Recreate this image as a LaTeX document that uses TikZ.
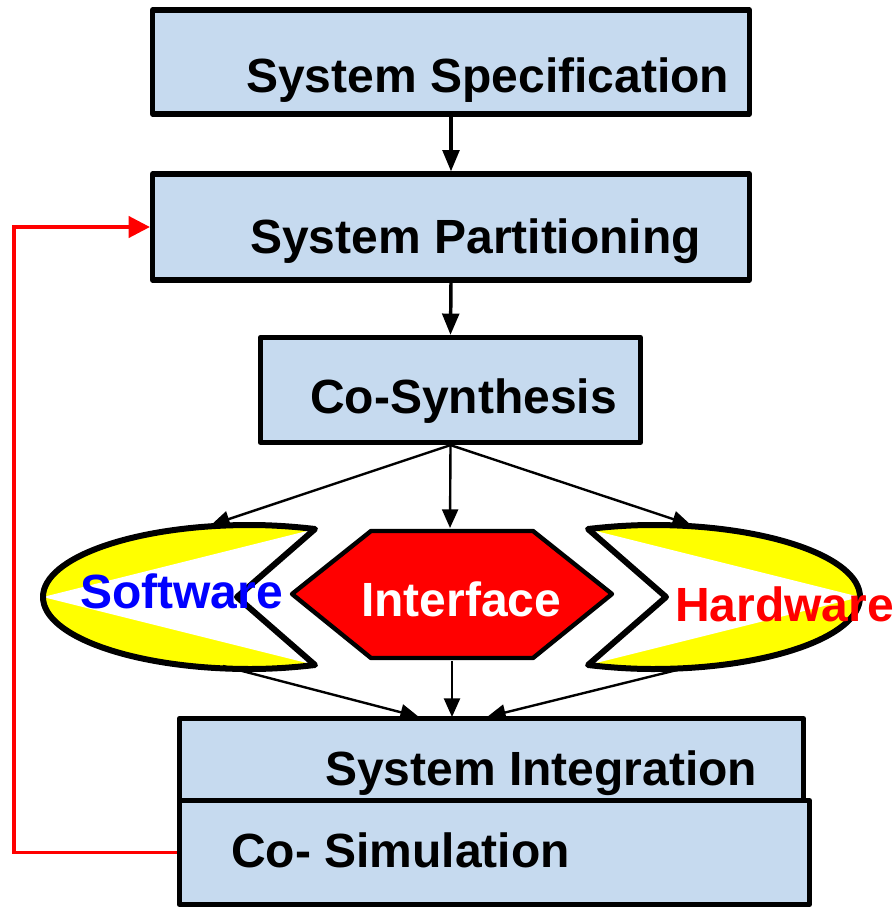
\documentclass[tikz,border=0pt]{standalone}
\usepackage{fontspec}
\setmainfont{Liberation Sans}
\usetikzlibrary{arrows.meta}
\definecolor{boxblue}{RGB}{198,218,239}
\definecolor{swblue}{RGB}{0,0,255}
\definecolor{hwred}{RGB}{255,0,0}
\definecolor{hlyellow}{RGB}{255,255,0}
\begin{document}
\begin{tikzpicture}[x=0.75pt,y=-0.75pt,
  box/.style={draw=black, fill=boxblue, line width=3.9pt, line join=round, rectangle, inner sep=0pt},
  lbl/.style={anchor=base west, inner sep=0pt, font=\fontsize{36}{42}\selectfont\bfseries},
  thickarr/.style={line width=2.6pt, -{Triangle[length=16pt,width=12.5pt]}},
  thinarr/.style={line width=1.8pt, -{Triangle[length=14pt,width=12pt]}},
  feedback/.style={draw=hwred, line width=2.6pt, -{Triangle[length=16pt,width=16pt]}},
  shapeline/.style={draw=black, line width=4.5pt, line join=round}]
\useasboundingbox (0,0) rectangle (895,910);

% boxes
\node[box, minimum width=447.75pt, minimum height=78pt] (spec) at (451,62) {};
\node[box, minimum width=447.75pt, minimum height=79.5pt] (part) at (451,227) {};
\node[box, minimum width=285pt, minimum height=78.75pt] (syn) at (450.5,390) {};
\node[box, minimum width=468pt, minimum height=61.5pt] (integ) at (491.5,759.5) {};
\node[box, minimum width=472.5pt, minimum height=78pt] (cosim) at (494.5,852.5) {};

% labels in boxes
\node[lbl] (tspec) at (246,92) {System Specification};
\node[lbl] (tpart) at (250,253) {System Partitioning};
\node[lbl] (tsyn) at (310,413) {Co-Synthesis};
\node[lbl] (tinteg) at (325,785) {System Integration};
\node[lbl] (tcosim) at (231,867) {Co- Simulation};

% software shape
\fill[hlyellow] (315,529) .. controls (293,526.5) and (272,525) .. (250,525) .. controls (135.7,525) and (43,557.2) .. (43,597) .. controls (43,636.8) and (135.7,669) .. (250,669) .. controls (272,669) and (293,667.5) .. (315,665) -- (237,597) -- cycle;
\fill[white] (43,597) -- (315,529) -- (237,597) -- (315,665) -- cycle;
\path[shapeline] (315,529) .. controls (293,526.5) and (272,525) .. (250,525) .. controls (135.7,525) and (43,557.2) .. (43,597) .. controls (43,636.8) and (135.7,669) .. (250,669) .. controls (272,669) and (293,667.5) .. (315,665) -- (237,597) -- cycle;

% hardware shape
\fill[hlyellow] (588,529) .. controls (610,526.5) and (631,525) .. (653,525) .. controls (767.3,525) and (860,557.2) .. (860,597) .. controls (860,636.8) and (767.3,669) .. (653,669) .. controls (631,669) and (610,667.5) .. (588,665) -- (666,597) -- cycle;
\fill[white] (860,597) -- (588,529) -- (666,597) -- (588,665) -- cycle;
\path[shapeline] (588,529) .. controls (610,526.5) and (631,525) .. (653,525) .. controls (767.3,525) and (860,557.2) .. (860,597) .. controls (860,636.8) and (767.3,669) .. (653,669) .. controls (631,669) and (610,667.5) .. (588,665) -- (666,597) -- cycle;

% interface hexagon
\path[shapeline, fill=hwred, line width=3.3pt] (292,594) -- (371,531) -- (533,531) -- (612,594) -- (533,658) -- (371,658) -- cycle;

\node[lbl, text=swblue] (tsw) at (80,608) {Software};
\node[lbl, text=white] (tif) at (361,616) {Interface};
\node[lbl, text=hwred] (thw) at (675,621) {Hardware};

% connector end points on the drawn shapes
\coordinate (swtop) at (211,525);
\coordinate (iftop) at (450,528);
\coordinate (hwtop) at (691,525);
\coordinate (swbot) at (223,666);
\coordinate (ifbot) at (452,661);
\coordinate (hwbot) at (685,668);
\coordinate (intL) at (419,717);
\coordinate (intC) at (452,717);
\coordinate (intR) at (487,717);
\coordinate (fbx) at (14,227);

% arrows
\draw[thickarr] (spec.south) -- (part.north);
\draw[thickarr] (part.south) -- (syn.north);
\draw[thinarr] (syn.south) -- (swtop);
\draw[thinarr] (syn.south) -- (iftop);
\draw[thinarr] (syn.south) -- (hwtop);
\draw[thinarr] (swbot) -- (intL);
\draw[thinarr] (ifbot) -- (intC);
\draw[thinarr] (hwbot) -- (intR);

% feedback
\draw[feedback] (cosim.west) -| (fbx) -- (part.west);
\end{tikzpicture}
\end{document}
